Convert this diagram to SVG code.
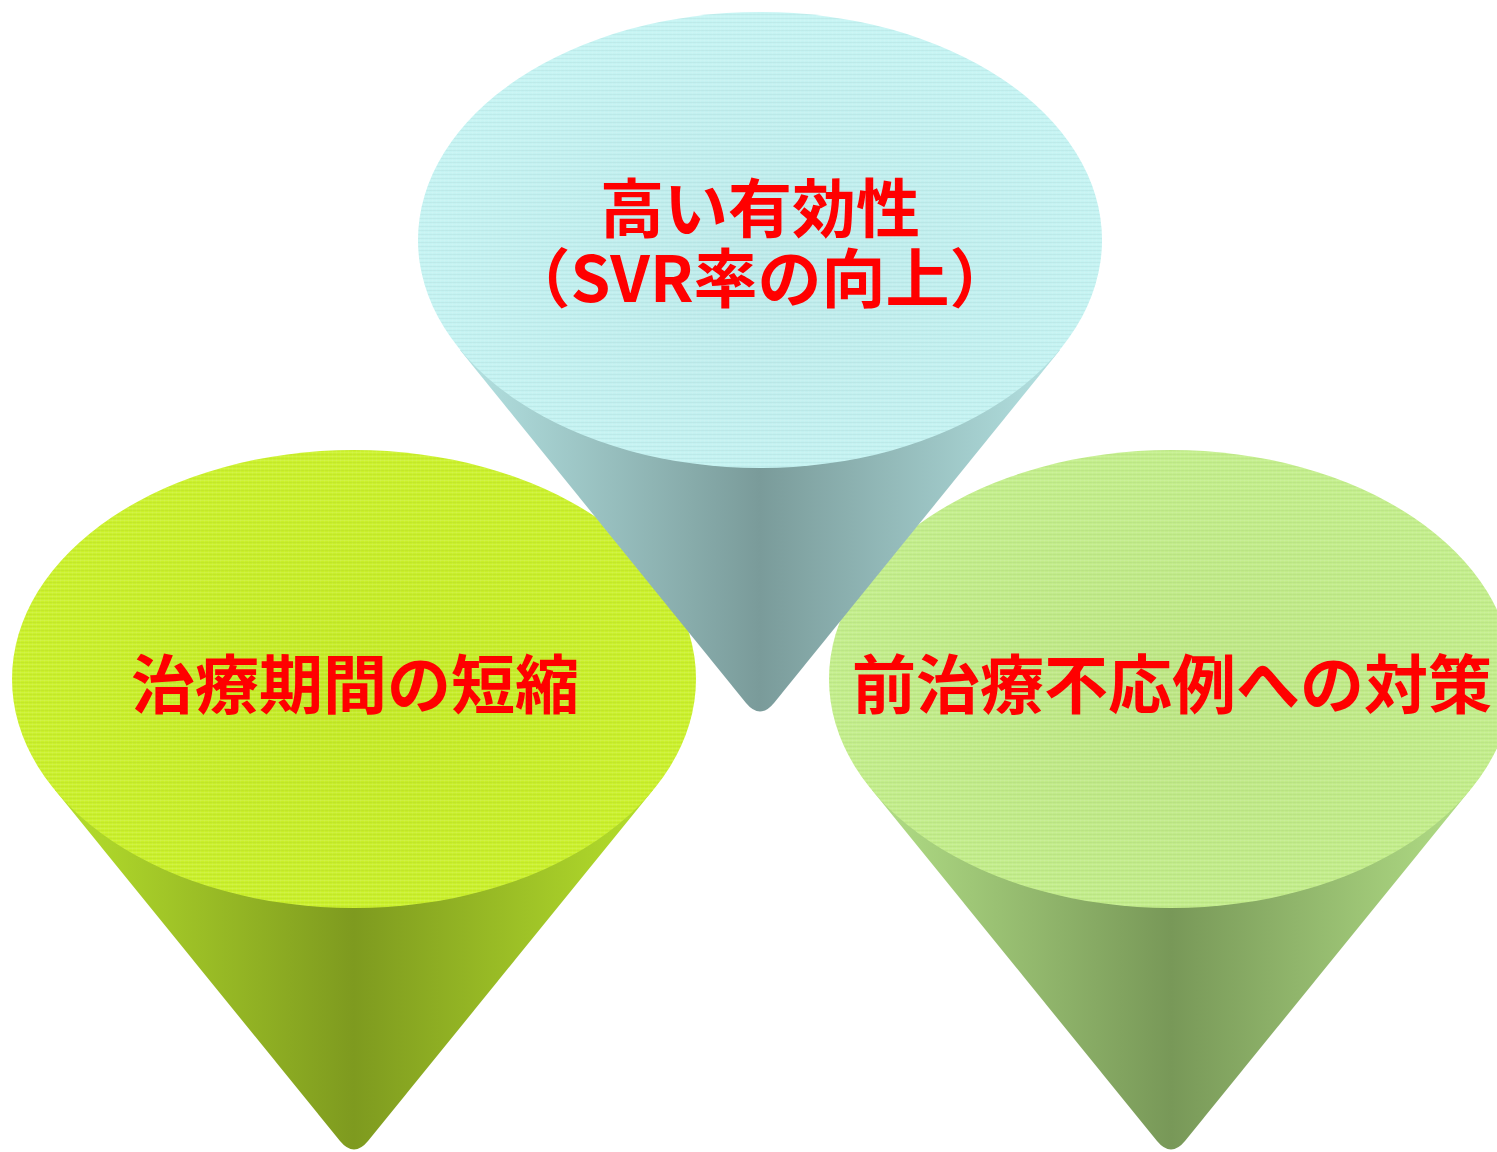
<svg xmlns="http://www.w3.org/2000/svg" width="1497" height="1152" viewBox="0 0 1497 1152">
  <style>
    .label { font-family: "Noto Sans CJK JP", "Liberation Sans", sans-serif; font-weight: bold; font-size: 64px; fill: #ff0000; text-anchor: middle; }
  </style>
  <defs>
    <!-- fine woven texture laid over each cone top -->
    <pattern id="weave" width="4" height="4" patternUnits="userSpaceOnUse">
      <rect x="0" y="0" width="4" height="1" fill="#ffffff" fill-opacity="0.1"/>
      <rect x="0" y="2" width="4" height="1" fill="#000000" fill-opacity="0.035"/>
      <rect x="0" y="0" width="1" height="4" fill="#ffffff" fill-opacity="0.05"/>
    </pattern>

    <!-- cone body shading: light rims, darker middle -->
    <linearGradient id="bodyCyan" x1="0" y1="0" x2="1" y2="0">
      <stop offset="0" stop-color="#b4e2e2"/>
      <stop offset="0.5" stop-color="#7a9b9a"/>
      <stop offset="1" stop-color="#b4e2e2"/>
    </linearGradient>
    <linearGradient id="bodyLime" x1="0" y1="0" x2="1" y2="0">
      <stop offset="0" stop-color="#b6e02c"/>
      <stop offset="0.5" stop-color="#7e9a1f"/>
      <stop offset="1" stop-color="#b6e02c"/>
    </linearGradient>
    <linearGradient id="bodySage" x1="0" y1="0" x2="1" y2="0">
      <stop offset="0" stop-color="#b2de86"/>
      <stop offset="0.5" stop-color="#789858"/>
      <stop offset="1" stop-color="#b2de86"/>
    </linearGradient>

    <!-- cone tops -->
    <radialGradient id="topCyan" cx="0.5" cy="0.55" r="0.6">
      <stop offset="0" stop-color="#bdeaea"/>
      <stop offset="1" stop-color="#c6f5f4"/>
    </radialGradient>
    <radialGradient id="topLime" cx="0.5" cy="0.55" r="0.6">
      <stop offset="0" stop-color="#c4ea26"/>
      <stop offset="1" stop-color="#ccf22c"/>
    </radialGradient>
    <radialGradient id="topSage" cx="0.5" cy="0.55" r="0.6">
      <stop offset="0" stop-color="#bde684"/>
      <stop offset="1" stop-color="#c4ef8c"/>
    </radialGradient>
  </defs>

  <rect x="0" y="0" width="1497" height="1152" fill="#ffffff"/>

  <!-- lower left cone -->
  <g id="cone-shorter-treatment">
    <path d="M55 790 L340 1141 Q354 1158 368 1141 L653 790 Z" fill="url(#bodyLime)"/>
    <ellipse cx="354" cy="679" rx="342" ry="229" fill="url(#topLime)"/>
    <ellipse cx="354" cy="679" rx="342" ry="229" fill="url(#weave)"/>
    <text class="label" x="355" y="708">治療期間の短縮</text>
  </g>

  <!-- lower right cone -->
  <g id="cone-prior-nonresponders">
    <path d="M872 790 L1157 1141 Q1171 1158 1185 1141 L1470 790 Z" fill="url(#bodySage)"/>
    <ellipse cx="1171" cy="679" rx="342" ry="229" fill="url(#topSage)"/>
    <ellipse cx="1171" cy="679" rx="342" ry="229" fill="url(#weave)"/>
    <text class="label" x="1172" y="708">前治療不応例への対策</text>
  </g>

  <!-- upper cone, in front of the other two -->
  <g id="cone-high-efficacy">
    <path d="M460 350 L746 703 Q760 720 774 703 L1060 350 Z" fill="url(#bodyCyan)"/>
    <ellipse cx="760" cy="240" rx="342" ry="228" fill="url(#topCyan)"/>
    <ellipse cx="760" cy="240" rx="342" ry="228" fill="url(#weave)"/>
    <text class="label" x="760" y="232">高い有効性<tspan x="760" y="302">（SVR率の向上）</tspan></text>
  </g>
</svg>
